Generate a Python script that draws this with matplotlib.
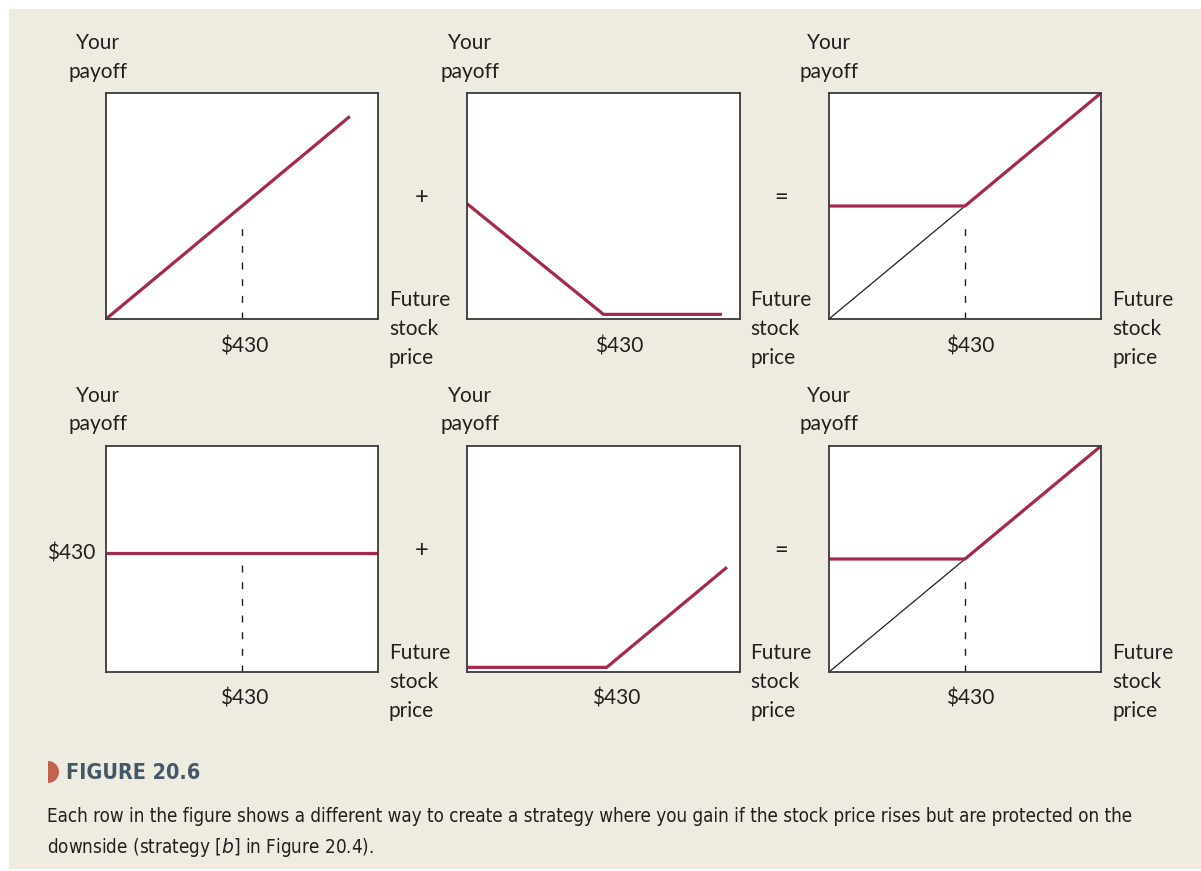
import matplotlib.pyplot as plt
from matplotlib.patches import Rectangle, Wedge

# payoff data (stock price on x, payoff on y)
strike = 430
share_x = [0, 771]
share_y = [0, 771]
put_x = [0, 430, 803]
put_y = [430, 0, 0]
prot_x = [0, 430, 860]
prot_y = [430, 430, 860]
stock_ref_x = [0, 430]
stock_ref_y = [0, 430]
bank_x = [0, 860]
bank_y = [430, 430]
call_x = [0, 440, 819]
call_y = [0, 0, 389]

red = '#A6284A'
ink = '#231F20'
beige = '#EEEBE0'
W, H = 1201, 871

plt.rcParams['font.family'] = ['Lato', 'DejaVu Sans']

fig = plt.figure(figsize=(W / 100, H / 100), dpi=100)
fig.patch.set_facecolor('white')

# full-figure overlay in pixel units for background and labels
bg = fig.add_axes([0, 0, 1, 1], zorder=0)
bg.set_xlim(0, W)
bg.set_ylim(H, 0)
bg.axis('off')
bg.add_patch(Rectangle((9, 9), W - 9, 860, color=beige, lw=0))


def panel(left, right, top, bottom, ylim):
    ax = fig.add_axes([left / W, 1 - bottom / H, (right - left) / W, (bottom - top) / H], zorder=1)
    ax.set_facecolor('white')
    ax.set_xlim(0, 860)
    ax.set_ylim(*ylim)
    ax.set_xticks([])
    ax.set_yticks([])
    for s in ax.spines.values():
        s.set_color('#3a3a3a')
        s.set_linewidth(1.3)
    return ax


def dashed(ax, top):
    ax.plot([strike, strike], [0, top], color=ink, lw=1, dashes=(5, 7))


cols = [(106, 378), (467, 740), (829, 1101)]
rows = [(93, 319), (446, 672)]

# row 1: buy share + buy put = downside protection
a1 = panel(*cols[0], *rows[0], (0, 860))
a1.plot(share_x, share_y, color=red, lw=2.3, solid_capstyle='butt')
dashed(a1, 376)

a2 = panel(*cols[1], *rows[0], (-18, 860))
a2.plot(put_x, put_y, color=red, lw=2.3, solid_capstyle='butt')

a3 = panel(*cols[2], *rows[0], (0, 860))
a3.plot(stock_ref_x, stock_ref_y, color=ink, lw=0.9)
dashed(a3, 375)
a3.plot(prot_x, prot_y, color=red, lw=2.3, solid_capstyle='butt')

# row 2: bank deposit + buy call = downside protection
b1 = panel(*cols[0], *rows[1], (0, 816))
b1.plot(bank_x, bank_y, color=red, lw=2.3, solid_capstyle='butt')
dashed(b1, 418)

b2 = panel(*cols[1], *rows[1], (-18, 860))
b2.plot(call_x, call_y, color=red, lw=2.3, solid_capstyle='butt')

b3 = panel(*cols[2], *rows[1], (0, 860))
b3.plot(stock_ref_x, stock_ref_y, color=ink, lw=0.9)
dashed(b3, 375)
b3.plot(prot_x, prot_y, color=red, lw=2.3, solid_capstyle='butt')

fs = 15
txt = dict(color=ink, fontsize=fs)

for (yy, yp), (fy1, fy2, fy3), ly in [((43, 72), (300, 329, 358), 346), ((396, 424), (653, 682, 711), 698)]:
    for cx in (98, 470, 829):
        bg.text(cx, yy, 'Your', ha='center', va='center', **txt)
        bg.text(cx, yp, 'payoff', ha='center', va='center', **txt)
    for fx in (389, 750, 1112):
        bg.text(fx, fy1, 'Future', ha='left', va='center', **txt)
        bg.text(fx, fy2, 'stock', ha='left', va='center', **txt)
        bg.text(fx, fy3, 'price', ha='left', va='center', **txt)
    bg.text(422, yy + 154, '+', ha='center', va='center', color=ink, fontsize=17)
    bg.text(781, yy + 154, '=', ha='center', va='center', color=ink, fontsize=17)

for x, y in [(244, 346), (619, 346), (970, 346), (244, 698), (616, 698), (970, 698)]:
    bg.text(x, y, '$430', ha='center', va='center', **txt)
bg.text(95, 553, '$430', ha='right', va='center', **txt)

rtxt = dict(color=red, fontsize=13.5, ha='center', va='center')
bg.text(220, 155, 'Buy share', **rtxt)
bg.text(597, 126, 'Buy put', **rtxt)
bg.text(922, 134, 'Downside', **rtxt)
bg.text(922, 160, 'protection', **rtxt)
bg.text(242, 481, 'Bank deposit paying $430', **rtxt)
bg.text(597, 477, 'Buy call', **rtxt)
bg.text(922, 480, 'Downside', **rtxt)
bg.text(922, 506, 'protection', **rtxt)

# caption
narrow = dict(family='DejaVu Sans', fontstretch='condensed')
bg.add_patch(Wedge((48, 772), 11, -90, 90, color='#C2634B', lw=0))
bg.text(66, 773, 'FIGURE 20.6', ha='left', va='center', color='#435866',
        fontsize=15.5, fontweight='bold', **narrow)
bg.text(47, 816, 'Each row in the figure shows a different way to create a strategy where you gain if the '
        'stock price rises but are protected on the', ha='left', va='center', color=ink,
        fontsize=13.5, **narrow)
bg.text(47, 847, 'downside (strategy [$\\it{b}$] in Figure 20.4).', ha='left', va='center', color=ink,
        fontsize=13.5, **narrow)

plt.savefig('out.png', dpi=100)
